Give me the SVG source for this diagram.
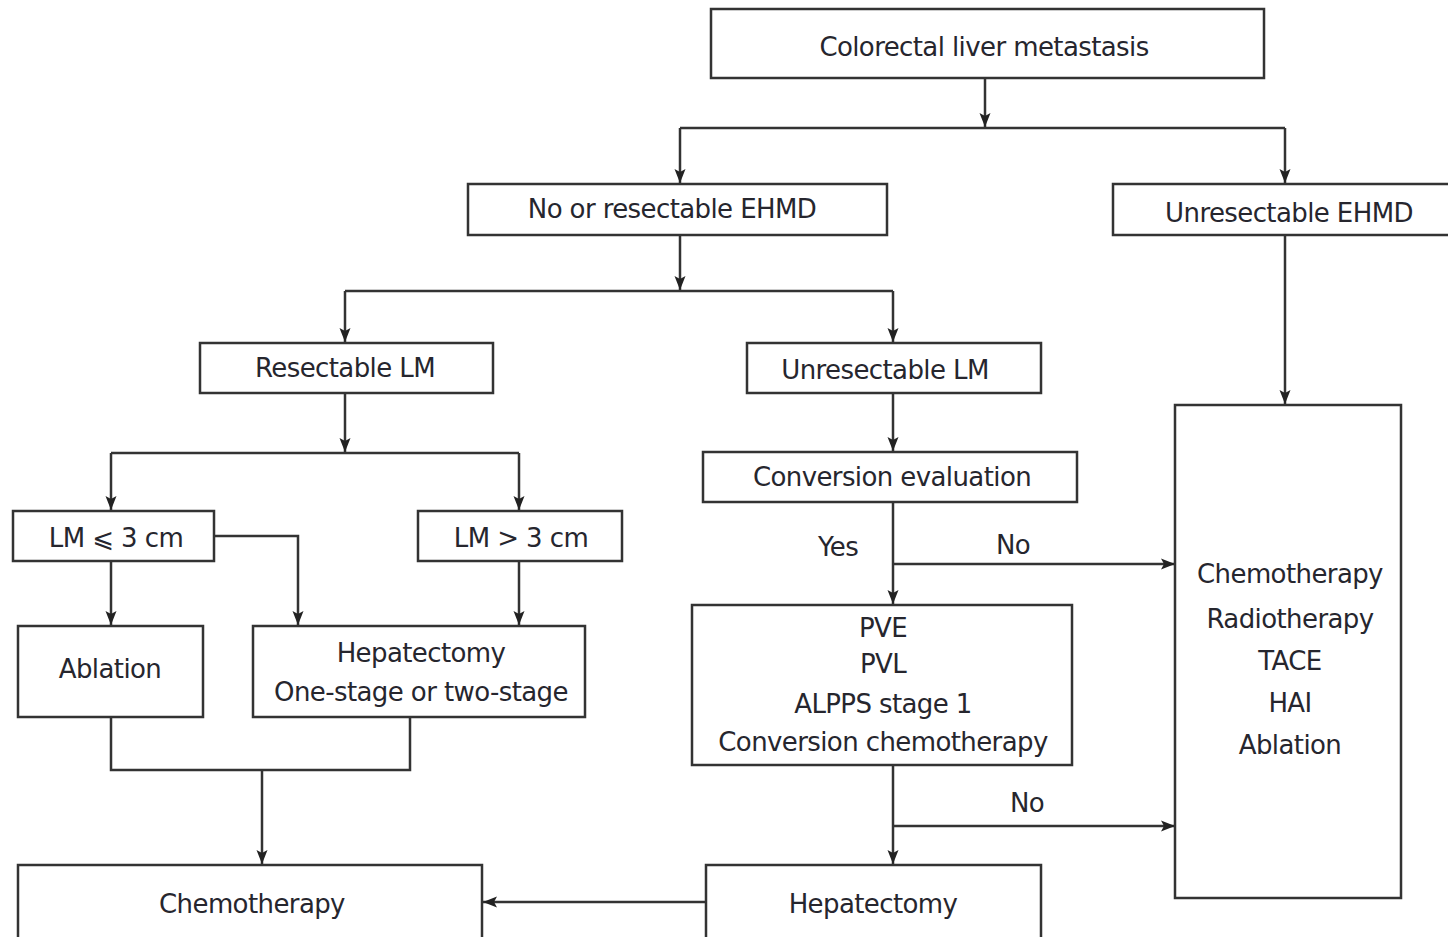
<svg xmlns="http://www.w3.org/2000/svg" width="1448" height="937" viewBox="0 0 1448 937">
<style>
.box{fill:#fff;stroke:#333;stroke-width:2.5}
.t{font-family:"DejaVu Sans",Verdana,sans-serif;font-size:26px;fill:#26262e;text-anchor:middle;dominant-baseline:central;letter-spacing:-0.6px}
.c{fill:none;stroke:#333;stroke-width:2.5}
.ca{fill:none;stroke:#333;stroke-width:2.5;marker-end:url(#ah)}
</style>
<defs>
<marker id="ah" markerWidth="14" markerHeight="14" viewBox="0 0 14 14" refX="14" refY="7" orient="auto" markerUnits="userSpaceOnUse">
<path d="M0,1.5 L14,7 L0,12.5 L3,7 Z" fill="#222"/>
</marker>
</defs>
<rect width="1448" height="937" fill="#fff"/>
<g id="connectors">
<path class="ca" d="M985,78 V127"/>
<path class="c" d="M680,128 H1285"/>
<path class="ca" d="M680,128 V183"/>
<path class="ca" d="M1285,128 V183"/>
<path class="ca" d="M680,235 V290"/>
<path class="c" d="M345,291 H893"/>
<path class="ca" d="M345,291 V342"/>
<path class="ca" d="M893,291 V342"/>
<path class="ca" d="M1285,235 V404"/>
<path class="ca" d="M345,393 V452"/>
<path class="c" d="M111,453 H519"/>
<path class="ca" d="M111,453 V510"/>
<path class="ca" d="M519,453 V510"/>
<path class="ca" d="M214,536 H298 V625"/>
<path class="ca" d="M111,561 V625"/>
<path class="ca" d="M519,561 V625"/>
<path class="c" d="M111,717 V770 H410 V717"/>
<path class="ca" d="M262,770 V864"/>
<path class="ca" d="M706,902 H483"/>
<path class="ca" d="M893,393 V451"/>
<path class="ca" d="M893,502 V604"/>
<path class="ca" d="M893,564 H1175"/>
<path class="ca" d="M893,765 V864"/>
<path class="ca" d="M893,826 H1175"/>
</g>
<g id="n-clm"><rect class="box" x="711" y="9" width="553" height="69"/><text class="t" x="984" y="47">Colorectal liver metastasis</text></g>
<g id="n-noehmd"><rect class="box" x="468" y="184" width="419" height="51"/><text class="t" x="672" y="209">No or resectable EHMD</text></g>
<g id="n-unehmd"><rect class="box" x="1113" y="184" width="345" height="51"/><text class="t" x="1289" y="213">Unresectable EHMD</text></g>
<g id="n-reslm"><rect class="box" x="200" y="343" width="293" height="50"/><text class="t" x="345" y="368">Resectable LM</text></g>
<g id="n-unreslm"><rect class="box" x="747" y="343" width="294" height="50"/><text class="t" x="885" y="370">Unresectable LM</text></g>
<g id="n-right"><rect class="box" x="1175" y="405" width="226" height="493"/>
<text class="t" x="1290" y="574">Chemotherapy</text>
<text class="t" x="1290" y="619">Radiotherapy</text>
<text class="t" x="1290" y="661">TACE</text>
<text class="t" x="1290" y="703">HAI</text>
<text class="t" x="1290" y="745">Ablation</text></g>
<g id="n-le3"><rect class="box" x="13" y="511" width="201" height="50"/><text class="t" x="116" y="538">LM ⩽ 3 cm</text></g>
<g id="n-gt3"><rect class="box" x="418" y="511" width="204" height="50"/><text class="t" x="521" y="538">LM &gt; 3 cm</text></g>
<g id="n-ablation"><rect class="box" x="18" y="626" width="185" height="91"/><text class="t" x="110" y="669">Ablation</text></g>
<g id="n-hep1"><rect class="box" x="253" y="626" width="332" height="91"/><text class="t" x="421" y="653">Hepatectomy</text><text class="t" x="421" y="692">One-stage or two-stage</text></g>
<g id="n-conv"><rect class="box" x="703" y="452" width="374" height="50"/><text class="t" x="892" y="477">Conversion evaluation</text></g>
<text class="t" x="838" y="547">Yes</text>
<text class="t" x="1013" y="545">No</text>
<g id="n-pve"><rect class="box" x="692" y="605" width="380" height="160"/>
<text class="t" x="883" y="628">PVE</text>
<text class="t" x="883" y="664">PVL</text>
<text class="t" x="883" y="704">ALPPS stage 1</text>
<text class="t" x="883" y="742">Conversion chemotherapy</text></g>
<text class="t" x="1027" y="803">No</text>
<g id="n-chemo"><rect class="box" x="18" y="865" width="464" height="90"/><text class="t" x="252" y="904">Chemotherapy</text></g>
<g id="n-hep2"><rect class="box" x="706" y="865" width="335" height="90"/><text class="t" x="873" y="904">Hepatectomy</text></g>
</svg>
